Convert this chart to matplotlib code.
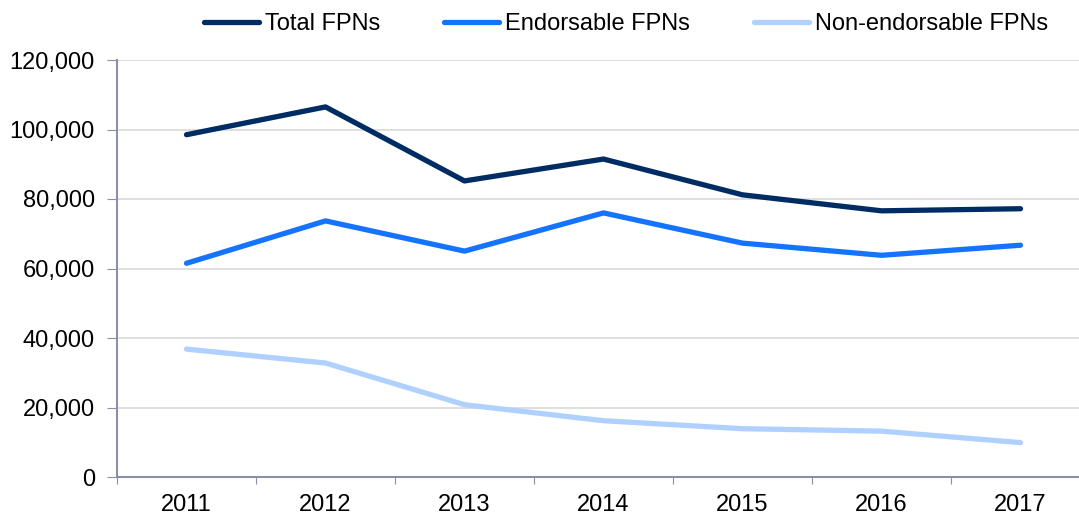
import matplotlib.pyplot as plt
from matplotlib.ticker import FuncFormatter

# Data
years = ["2011", "2012", "2013", "2014", "2015", "2016", "2017"]
total_fpns = [98500, 106500, 85200, 91500, 81200, 76600, 77200]
endorsable_fpns = [61500, 73700, 65000, 76000, 67300, 63800, 66700]
non_endorsable_fpns = [36800, 32800, 20800, 16200, 13900, 13200, 9900]

plt.rcParams["font.family"] = ["Liberation Sans", "DejaVu Sans"]

fig = plt.figure(figsize=(10.79, 5.15), dpi=100)
ax = fig.add_axes([117 / 1079, 1 - 477 / 515, (1090 - 117) / 1079, (477 - 60) / 515])

x = range(len(years))
ax.plot(x, total_fpns, color="#002c64", lw=3.8, label="Total FPNs", solid_capstyle="round")
ax.plot(x, endorsable_fpns, color="#1473ff", lw=3.8, label="Endorsable FPNs", solid_capstyle="round")
ax.plot(x, non_endorsable_fpns, color="#b0d1ff", lw=3.8, label="Non-endorsable FPNs", solid_capstyle="round")

ax.set_xlim(-0.5, len(years) - 0.5)
ax.set_ylim(0, 120000)
ax.set_yticks(range(0, 120001, 20000))
ax.yaxis.set_major_formatter(FuncFormatter(lambda v, p: f"{int(v):,}"))

# category labels centred, tick marks between categories
ax.set_xticks([i - 0.5 for i in range(len(years) + 1)])
ax.set_xticklabels([])
ax.set_xticks(list(x), minor=True)
ax.set_xticklabels(years, minor=True)
ax.tick_params(axis="x", which="minor", length=0, labelsize=17, pad=12)
ax.tick_params(axis="x", which="major", length=5, color="#8c8fa8")
ax.tick_params(axis="y", length=7, color="#8c8fa8", labelsize=17, pad=9)

ax.grid(axis="y", color="#d9d9d9", lw=1.2)
ax.set_axisbelow(True)
for side in ["top", "right"]:
    ax.spines[side].set_visible(False)
for side in ["left", "bottom"]:
    ax.spines[side].set_color("#8c8fa8")
    ax.spines[side].set_linewidth(1.5)

fig.legend(loc="center", bbox_to_anchor=(626 / 1079, 1 - 24 / 515), ncol=3, frameon=False,
           fontsize=17, handlelength=2.35, handletextpad=0.25, columnspacing=2.7)

plt.savefig("out.png", dpi=100)
